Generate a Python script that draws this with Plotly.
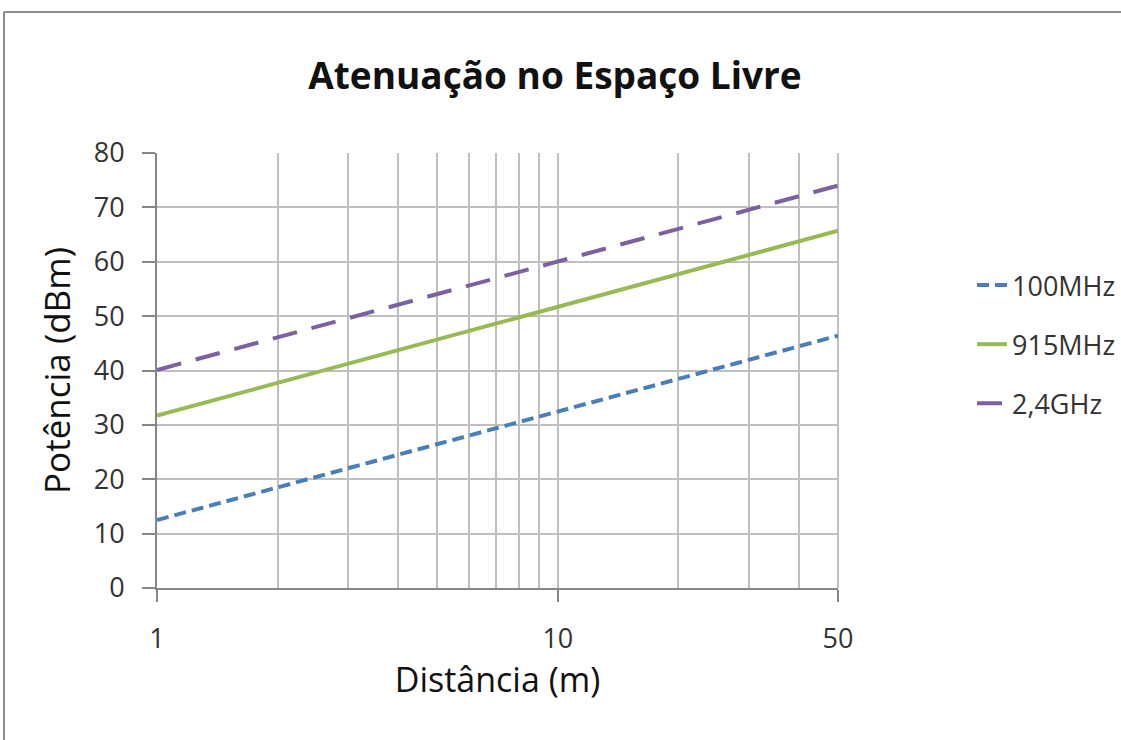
import plotly.graph_objects as go

# Data
distance_m = [1, 10, 50]
loss_100mhz = [12.5, 32.5, 46.4]
loss_915mhz = [31.7, 51.7, 65.7]
loss_2_4ghz = [40.1, 60.1, 74.0]

series_names = ["100MHz", "915MHz", "2,4GHz"]
x_tick_vals = [1, 10, 50]
x_tick_text = ["1", "10", "50"]
x_minor_vals = [2, 3, 4, 5, 6, 7, 8, 9, 20, 30, 40]
y_tick_vals = [0, 10, 20, 30, 40, 50, 60, 70, 80]

FONT = "Open Sans"
GRID = "#BFBFBF"
AXIS = "#868686"
TXT = "#333333"

fig = go.Figure()
styles = [
    dict(color="#4A7EBB", dash="12px,6px"),
    dict(color="#98B954", dash="solid"),
    dict(color="#7D60A0", dash="25px,15px"),
]
for name, ys, st in zip(series_names, [loss_100mhz, loss_915mhz, loss_2_4ghz], styles):
    fig.add_trace(go.Scatter(
        x=distance_m, y=ys, mode="lines", name=name, legendgroup=name,
        line=dict(color=st["color"], width=4, dash=st["dash"]),
    ))

W, H = 1121, 740
L, R, T, B = 157, 838, 153, 588

def px_x(p):
    return (p - L) / (R - L)

def px_y(p):
    return (B - p) / (B - T)

# outer chart frame (top and left edges visible in the reference)
frame = dict(color="#8C8C8C", width=2)
fig.add_shape(type="line", xref="paper", yref="paper",
              x0=px_x(4), x1=px_x(1125), y0=px_y(12), y1=px_y(12), line=frame, layer="below")
fig.add_shape(type="line", xref="paper", yref="paper",
              x0=px_x(4), x1=px_x(4), y0=px_y(12), y1=px_y(745), line=frame, layer="below")

fig.update_layout(
    width=W, height=H,
    margin=dict(l=L, r=W - R, t=T, b=H - B, pad=0, autoexpand=False),
    paper_bgcolor="white", plot_bgcolor="white",
    font=dict(family=FONT, color=TXT),
    title=dict(text="<b>Atenuação no Espaço Livre</b>", x=555 / W, xanchor="center",
               y=1 - 76 / H, yanchor="middle", font=dict(size=37, family=FONT, color="#111111")),
    showlegend=True,
    legend=dict(x=px_x(972), y=px_y(261), xanchor="left", yanchor="top",
                font=dict(size=27, family=FONT, color=TXT), tracegroupgap=21,
                bgcolor="rgba(0,0,0,0)"),
    xaxis=dict(
        type="log", range=[0, 1.69897], tickvals=x_tick_vals, ticktext=x_tick_text,
        showgrid=True, gridcolor=GRID, gridwidth=2,
        minor=dict(tickvals=x_minor_vals, showgrid=True, gridcolor=GRID, gridwidth=2, ticks=""),
        showline=True, linecolor=AXIS, linewidth=2, mirror=False,
        ticks="outside", ticklen=12, tickcolor=AXIS, tickwidth=1.5,
        ticklabelstandoff=14,
        tickfont=dict(size=27, color=TXT),
        title=dict(text="Distância (m)", font=dict(size=34, color="#111111"), standoff=13),
        zeroline=False,
    ),
    yaxis=dict(
        range=[0, 80], tickvals=y_tick_vals,
        showgrid=True, gridcolor=GRID, gridwidth=2,
        showline=True, linecolor=AXIS, linewidth=2,
        ticks="outside", ticklen=13, tickcolor=AXIS, tickwidth=1.5,
        ticklabelstandoff=12,
        tickfont=dict(size=27, color=TXT),
        title=dict(text="Potência (dBm)", font=dict(size=35, color="#111111"), standoff=12),
        zeroline=False,
    ),
)
# right border line at x=50
fig.add_shape(type="line", xref="paper", yref="paper", x0=1, x1=1, y0=0, y1=1,
              line=dict(color=GRID, width=2), layer="below")

fig.write_html("out.html", config={"displayModeBar": False},
               post_script="document.body.style.margin='0';")
